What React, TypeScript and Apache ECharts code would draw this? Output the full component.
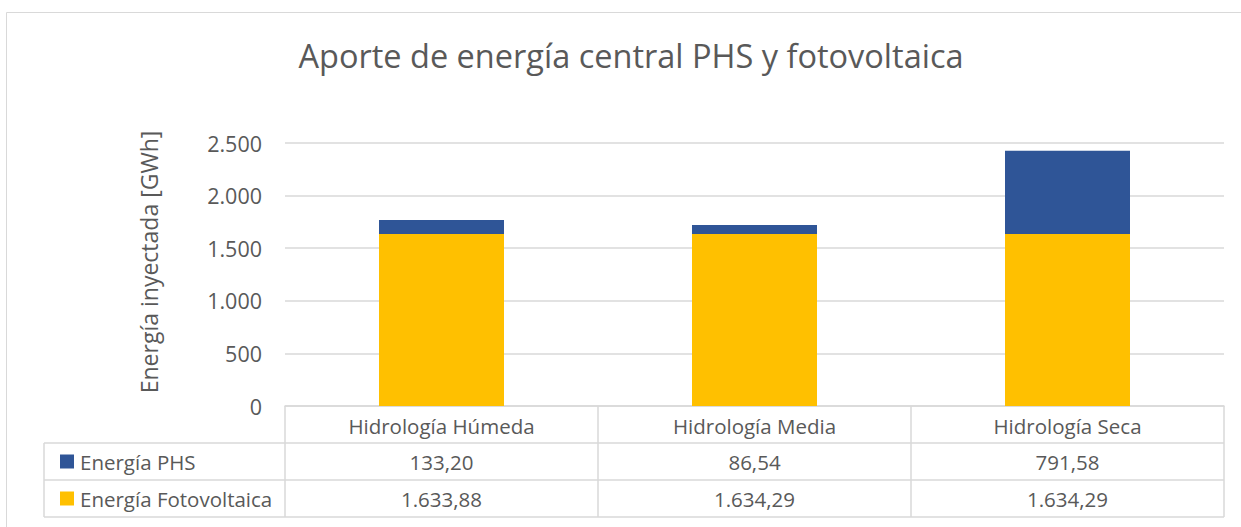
import React, { useEffect, useRef } from "react";
import * as echarts from "echarts";

const title = "Aporte de energía central PHS y fotovoltaica";
const yAxisTitle = "Energía inyectada [GWh]";
const categories = ["Hidrología Húmeda", "Hidrología Media", "Hidrología Seca"];
const seriesPHS = [133.2, 86.54, 791.58];
const seriesFoto = [1633.88, 1634.29, 1634.29];
const seriesNames = ["Energía PHS", "Energía Fotovoltaica"];
const colorPHS = "#2F5597";
const colorFoto = "#FFC000";
const textColor = "#595959";
const lineColor = "#D9D9D9";
const FONT = "Open Sans";

function fmtThousands(n: number): string {
  const s = Math.round(n).toString();
  return s.replace(/\B(?=(\d{3})+(?!\d))/g, ".");
}
function fmtDec(n: number): string {
  const [i, d] = n.toFixed(2).split(".");
  return i.replace(/\B(?=(\d{3})+(?!\d))/g, ".") + "," + d;
}

export default function App() {
  const ref = useRef<HTMLDivElement>(null);
  useEffect(() => {
    if (!ref.current) return;
    const chart = echarts.init(ref.current, undefined, { renderer: "svg" });
    const gridLeft = 285;
    const gridRight = 17;
    const gridTop = 143;
    const gridBottom = 121;
    chart.setOption({
      animation: false,
      title: {
        text: title,
        left: 626,
        top: 34,
        textAlign: "center",
        textStyle: { fontFamily: FONT, fontSize: 32.5, fontWeight: "normal", color: textColor },
      },
      grid: { left: gridLeft, right: gridRight, top: gridTop, bottom: gridBottom, containLabel: false },
      xAxis: {
        type: "category",
        data: categories,
        axisLine: { lineStyle: { color: lineColor, width: 1.5 } },
        axisTick: { show: false },
        axisLabel: { fontFamily: FONT, fontSize: 20.5, color: textColor, margin: 9 },
      },
      yAxis: {
        type: "value",
        min: 0,
        max: 2500,
        interval: 500,
        axisLine: { show: false },
        axisTick: { show: false },
        splitLine: { lineStyle: { color: lineColor, width: 1.5 } },
        axisLabel: {
          fontFamily: FONT,
          fontSize: 21.5,
          color: textColor,
          margin: 23,
          formatter: (v: number) => fmtThousands(v),
        },
      },
      series: [
        {
          name: seriesNames[1],
          type: "bar",
          stack: "total",
          data: seriesFoto,
          barWidth: 125,
          itemStyle: { color: colorFoto },
        },
        {
          name: seriesNames[0],
          type: "bar",
          stack: "total",
          data: seriesPHS,
          barWidth: 125,
          itemStyle: { color: colorPHS },
        },
      ],
    });

    // Data table below the axis
    const y0 = chart.convertToPixel({ yAxisIndex: 0 }, 0) as number;
    const xCenters = categories.map((c) => chart.convertToPixel({ xAxisIndex: 0 }, c) as number);
    const colW = xCenters.length > 1 ? xCenters[1] - xCenters[0] : 313;
    const xLeft = xCenters[0] - colW / 2;
    const xRight = xCenters[xCenters.length - 1] + colW / 2;
    const rowH = 37;
    const tableLeft = 44;
    const lineStyle = { stroke: lineColor, lineWidth: 1.5 };
    const els: any[] = [];
    // chart border
    els.push({
      type: "rect",
      shape: { x: 6.5, y: 12.5, width: 1300, height: 600 },
      style: { fill: "none", stroke: lineColor, lineWidth: 1 },
      silent: true,
      z: -1,
    });
    // y axis title
    els.push({
      type: "text",
      x: 149,
      y: 262,
      rotation: Math.PI / 2,
      style: { text: yAxisTitle, fontFamily: FONT, fontSize: 23, fill: textColor, align: "center", verticalAlign: "middle" },
    });
    for (let r = 1; r <= 3; r++) {
      els.push({
        type: "line",
        shape: { x1: tableLeft, y1: y0 + rowH * r, x2: xRight, y2: y0 + rowH * r },
        style: lineStyle,
      });
    }
    els.push({ type: "line", shape: { x1: tableLeft, y1: y0 + rowH, x2: tableLeft, y2: y0 + rowH * 3 }, style: lineStyle });
    for (let c = 0; c <= categories.length; c++) {
      const x = xLeft + colW * c;
      els.push({ type: "line", shape: { x1: x, y1: y0, x2: x, y2: y0 + rowH * 3 }, style: lineStyle });
    }
    const rows = [
      { name: seriesNames[0], color: colorPHS, vals: seriesPHS },
      { name: seriesNames[1], color: colorFoto, vals: seriesFoto },
    ];
    rows.forEach((row, i) => {
      const cy = y0 + rowH * (i + 1) + rowH / 2;
      els.push({ type: "rect", shape: { x: 60, y: cy - 7, width: 14, height: 14 }, style: { fill: row.color } });
      els.push({
        type: "text",
        x: 80,
        y: cy,
        style: { text: row.name, fontFamily: FONT, fontSize: 20.5, fill: textColor, verticalAlign: "middle", align: "left" },
      });
      row.vals.forEach((v, j) => {
        els.push({
          type: "text",
          x: xCenters[j],
          y: cy,
          style: { text: fmtDec(v), fontFamily: FONT, fontSize: 20.5, fill: textColor, verticalAlign: "middle", align: "center" },
        });
      });
    });
    chart.setOption({ graphic: { elements: els } });

    return () => chart.dispose();
  }, []);
  return (
    <div
      ref={ref}
      style={{ position: "fixed", left: 0, top: 0, width: 1241, height: 527, background: "#fff" }}
    />
  );
}
